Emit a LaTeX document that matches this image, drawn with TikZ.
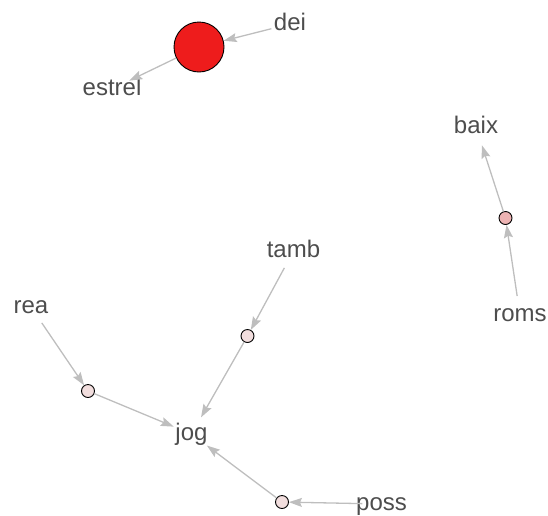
\documentclass[tikz,border=0pt]{standalone}
\usepackage{fontspec}
\setmainfont{Liberation Sans}
\usetikzlibrary{arrows.meta}
\definecolor{edgegray}{HTML}{BEBEBE}
\definecolor{wordgray}{HTML}{4D4D4D}
\definecolor{hubred}{HTML}{EE1C1C}
\definecolor{pinkhi}{HTML}{EDB3B3}
\definecolor{pinklo}{HTML}{F2DEDE}
\newcommand\wordbox[1]{\makebox[0pt]{#1}}
\tikzset{
	word/.style={
		circle,
		inner sep=0pt,
		minimum size=38pt,
		text=wordgray,
		font=\fontsize{24}{24}\selectfont,
		text height=17pt,
		text depth=5pt
	},
	dot/.style={
		circle,
		draw=black,
		line width=0.9pt,
		inner sep=0pt,
		minimum size=13pt
	},
	link/.style={
		-{Stealth[length=13pt,width=9pt,inset=2pt]},
		draw=edgegray,
		line width=1.3pt
	}
}

\begin{document}
\begin{tikzpicture}[x=1pt,y=-1pt]
\useasboundingbox (0,0) rectangle (548,515);
% hub and its two words
\node [dot, fill=hubred, minimum size=50pt] (hub) at (199,47) {};
\node [word] (dei) at (290,24) {\wordbox{dei}};
\node [word] (estrel) at (112,89) {\wordbox{estrel}};
% right chain
\node [dot, fill=pinkhi] (mid) at (505.5,218) {};
\node [word] (baix) at (476,127) {\wordbox{baix}};
\node [word] (roms) at (520,315) {\wordbox{roms}};
% lower tree around jog
\node [word] (jog) at (191.5,434) {\wordbox{jog}};
\node [dot, fill=pinklo] (ta) at (247.5,336) {};
\node [word] (tamb) at (293.5,251) {\wordbox{tamb}};
\node [dot, fill=pinklo] (re) at (88,391) {};
\node [word] (rea) at (31,307) {\wordbox{rea}};
\node [dot, fill=pinklo] (po) at (282,502) {};
\node [word] (poss) at (381.5,504) {\wordbox{poss}};

\draw [link] (dei) -- (hub);
\draw [link] (hub) -- (estrel);
\draw [link] (mid) -- (baix);
\draw [link] (roms) -- (mid);
\draw [link] (tamb) -- (ta);
\draw [link] (ta) -- (jog);
\draw [link] (rea) -- (re);
\draw [link] (re) -- (jog);
\draw [link] (po) -- (jog);
\draw [link] (poss) -- (po);
\end{tikzpicture}
\end{document}
